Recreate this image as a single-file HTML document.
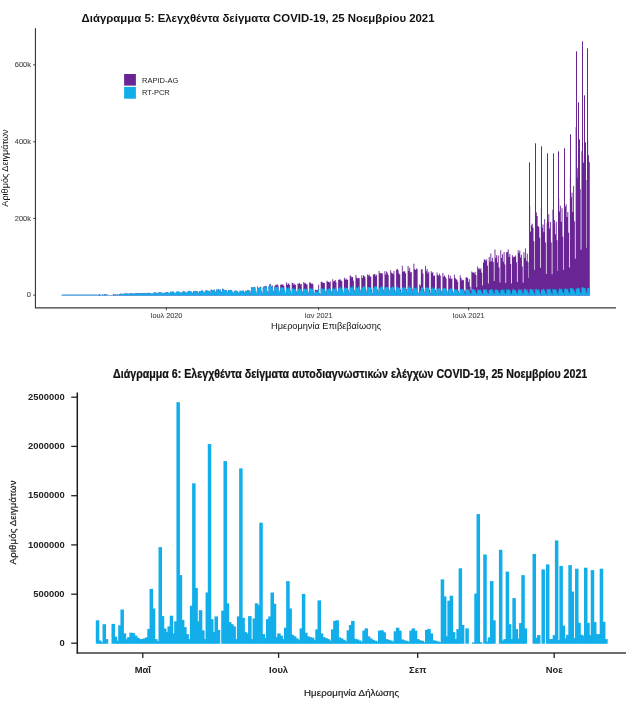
<!DOCTYPE html>
<html lang="el"><head><meta charset="utf-8"><title>Διαγράμματα COVID-19</title>
<style>
html,body{margin:0;padding:0;background:#fff}
svg{display:block}
text{font-family:"Liberation Sans",sans-serif}
.t1{font-size:7.3px;fill:#4a4a4a;stroke:#4a4a4a;stroke-width:0.12px}
.l1{font-size:9.2px;fill:#111}
.h1{font-size:11.1px;font-weight:bold;fill:#111}
.lg{font-size:7.5px;fill:#222}
.t2{font-size:9.4px;font-weight:bold;fill:#222}
.l2{font-size:9.6px;fill:#222;letter-spacing:0.14px;stroke:#222;stroke-width:0.22px}
.h2{font-size:12px;font-weight:bold;fill:#111;stroke:#111;stroke-width:0.22px}
</style></head><body>
<svg width="634" height="703" viewBox="0 0 634 703">
<rect width="634" height="703" fill="#fff"/>
<g id="chart5">
<path d="M61.69,295.45 L61.69,295.20 L62.51,295.20 L62.51,295.20 L63.34,295.20 L63.34,295.20 L64.17,295.20 L64.17,295.20 L65.00,295.20 L65.00,295.20 L65.82,295.20 L65.82,295.20 L66.65,295.20 L66.65,295.20 L67.48,295.20 L67.48,295.20 L68.31,295.20 L68.31,295.20 L69.14,295.20 L69.14,295.20 L69.96,295.20 L69.96,295.20 L70.79,295.20 L70.79,295.20 L71.62,295.20 L71.62,295.20 L72.45,295.20 L72.45,295.20 L73.27,295.20 L73.27,295.20 L74.10,295.20 L74.10,295.20 L74.93,295.20 L74.93,295.20 L75.76,295.20 L75.76,295.20 L76.58,295.20 L76.58,295.20 L77.41,295.20 L77.41,295.20 L78.24,295.20 L78.24,295.20 L79.07,295.20 L79.07,295.20 L79.90,295.20 L79.90,295.20 L80.72,295.20 L80.72,295.20 L81.55,295.20 L81.55,295.20 L82.38,295.20 L82.38,295.20 L83.21,295.20 L83.21,295.20 L84.03,295.20 L84.03,295.20 L84.86,295.20 L84.86,295.20 L85.69,295.20 L85.69,295.20 L86.52,295.20 L86.52,295.20 L87.34,295.20 L87.34,295.20 L88.17,295.20 L88.17,295.20 L89.00,295.20 L89.00,295.20 L89.83,295.20 L89.83,295.20 L90.66,295.20 L90.66,295.20 L91.48,295.20 L91.48,295.20 L92.31,295.20 L92.31,295.20 L93.14,295.20 L93.14,295.20 L93.97,295.20 L93.97,295.20 L94.79,295.20 L94.79,295.20 L95.62,295.20 L95.62,295.20 L96.45,295.20 L96.45,295.20 L97.28,295.20 L97.28,295.20 L98.10,295.20 L98.10,294.70 L98.93,294.70 L98.93,294.30 L99.76,294.30 L99.76,294.70 L100.59,294.70 L100.59,295.20 L101.42,295.20 L101.42,295.20 L102.24,295.20 L102.24,294.30 L103.07,294.30 L103.07,295.20 L103.90,295.20 L103.90,294.30 L104.73,294.30 L104.73,294.30 L105.55,294.30 L105.55,295.20 L106.38,295.20 L106.38,294.30 L107.21,294.30 L107.21,295.20 L108.04,295.20 L108.04,295.20 L108.87,295.20 L108.87,295.20 L109.69,295.20 L109.69,295.20 L110.52,295.20 L110.52,295.20 L111.35,295.20 L111.35,295.20 L112.18,295.20 L112.18,295.20 L113.00,295.20 L113.00,294.30 L113.83,294.30 L113.83,294.50 L114.66,294.50 L114.66,294.50 L115.49,294.50 L115.49,294.70 L116.31,294.70 L116.31,295.20 L117.14,295.20 L117.14,294.30 L117.97,294.30 L117.97,295.20 L118.80,295.20 L118.80,294.27 L119.63,294.27 L119.63,294.06 L120.45,294.06 L120.45,293.73 L121.28,293.73 L121.28,293.66 L122.11,293.66 L122.11,294.08 L122.94,294.08 L122.94,294.12 L123.76,294.12 L123.76,293.65 L124.59,293.65 L124.59,293.56 L125.42,293.56 L125.42,293.77 L126.25,293.77 L126.25,293.51 L127.07,293.51 L127.07,293.63 L127.90,293.63 L127.90,293.63 L128.73,293.63 L128.73,293.98 L129.56,293.98 L129.56,293.45 L130.39,293.45 L130.39,293.33 L131.21,293.33 L131.21,293.55 L132.04,293.55 L132.04,293.67 L132.87,293.67 L132.87,293.48 L133.70,293.48 L133.70,293.69 L134.52,293.69 L134.52,293.82 L135.35,293.82 L135.35,293.15 L136.18,293.15 L136.18,293.26 L137.01,293.26 L137.01,293.53 L137.83,293.53 L137.83,293.22 L138.66,293.22 L138.66,293.12 L139.49,293.12 L139.49,293.50 L140.32,293.50 L140.32,293.57 L141.15,293.57 L141.15,293.23 L141.97,293.23 L141.97,293.42 L142.80,293.42 L142.80,292.92 L143.63,292.92 L143.63,293.13 L144.46,293.13 L144.46,293.10 L145.28,293.10 L145.28,293.39 L146.11,293.39 L146.11,293.45 L146.94,293.45 L146.94,293.04 L147.77,293.04 L147.77,292.87 L148.59,292.87 L148.59,293.28 L149.42,293.28 L149.42,293.25 L150.25,293.25 L150.25,293.26 L151.08,293.26 L151.08,293.84 L151.91,293.84 L151.91,294.10 L152.73,294.10 L152.73,292.96 L153.56,292.96 L153.56,292.60 L154.39,292.60 L154.39,292.67 L155.22,292.67 L155.22,292.71 L156.04,292.71 L156.04,292.82 L156.87,292.82 L156.87,293.27 L157.70,293.27 L157.70,294.08 L158.53,294.08 L158.53,292.32 L159.35,292.32 L159.35,292.47 L160.18,292.47 L160.18,292.81 L161.01,292.81 L161.01,292.47 L161.84,292.47 L161.84,292.88 L162.67,292.88 L162.67,293.25 L163.49,293.25 L163.49,293.72 L164.32,293.72 L164.32,292.66 L165.15,292.66 L165.15,292.63 L165.98,292.63 L165.98,292.33 L166.80,292.33 L166.80,291.97 L167.63,291.97 L167.63,292.44 L168.46,292.44 L168.46,293.00 L169.29,293.00 L169.29,293.78 L170.11,293.78 L170.11,291.76 L170.94,291.76 L170.94,292.20 L171.77,292.20 L171.77,291.69 L172.60,291.69 L172.60,291.64 L173.43,291.64 L173.43,292.28 L174.25,292.28 L174.25,292.91 L175.08,292.91 L175.08,293.63 L175.91,293.63 L175.91,291.83 L176.74,291.83 L176.74,291.92 L177.56,291.92 L177.56,291.54 L178.39,291.54 L178.39,291.67 L179.22,291.67 L179.22,292.07 L180.05,292.07 L180.05,292.76 L180.87,292.76 L180.87,293.66 L181.70,293.66 L181.70,291.93 L182.53,291.93 L182.53,291.84 L183.36,291.84 L183.36,291.16 L184.19,291.16 L184.19,291.72 L185.01,291.72 L185.01,292.08 L185.84,292.08 L185.84,292.74 L186.67,292.74 L186.67,293.28 L187.50,293.28 L187.50,291.42 L188.32,291.42 L188.32,290.95 L189.15,290.95 L189.15,291.05 L189.98,291.05 L189.98,291.11 L190.81,291.11 L190.81,291.77 L191.64,291.77 L191.64,292.75 L192.46,292.75 L192.46,293.13 L193.29,293.13 L193.29,291.09 L194.12,291.09 L194.12,291.35 L194.95,291.35 L194.95,291.30 L195.77,291.30 L195.77,291.51 L196.60,291.51 L196.60,291.08 L197.43,291.08 L197.43,292.10 L198.26,292.10 L198.26,293.48 L199.08,293.48 L199.08,291.37 L199.91,291.37 L199.91,291.38 L200.74,291.38 L200.74,291.52 L201.57,291.52 L201.57,290.55 L202.40,290.55 L202.40,290.67 L203.22,290.67 L203.22,292.55 L204.05,292.55 L204.05,292.79 L204.88,292.79 L204.88,291.01 L205.71,291.01 L205.71,290.15 L206.53,290.15 L206.53,290.67 L207.36,290.67 L207.36,290.76 L208.19,290.76 L208.19,291.01 L209.02,291.01 L209.02,291.46 L209.84,291.46 L209.84,293.15 L210.67,293.15 L210.67,289.71 L211.50,289.71 L211.50,290.60 L212.33,290.60 L212.33,290.10 L213.16,290.10 L213.16,290.10 L213.98,290.10 L213.98,289.85 L214.81,289.85 L214.81,291.80 L215.64,291.80 L215.64,292.83 L216.47,292.83 L216.47,289.38 L217.29,289.38 L217.29,290.37 L218.12,290.37 L218.12,289.24 L218.95,289.24 L218.95,290.59 L219.78,290.59 L219.78,289.44 L220.60,289.44 L220.60,291.80 L221.43,291.80 L221.43,292.54 L222.26,292.54 L222.26,288.86 L223.09,288.86 L223.09,289.24 L223.92,289.24 L223.92,290.07 L224.74,290.07 L224.74,290.35 L225.57,290.35 L225.57,289.95 L226.40,289.95 L226.40,291.33 L227.23,291.33 L227.23,292.01 L228.05,292.01 L228.05,289.95 L228.88,289.95 L228.88,290.37 L229.71,290.37 L229.71,289.96 L230.54,289.96 L230.54,290.17 L231.36,290.17 L231.36,290.53 L232.19,290.53 L232.19,292.19 L233.02,292.19 L233.02,293.30 L233.85,293.30 L233.85,291.53 L234.68,291.53 L234.68,290.67 L235.50,290.67 L235.50,290.70 L236.33,290.70 L236.33,291.04 L237.16,291.04 L237.16,290.98 L237.99,290.98 L237.99,292.45 L238.81,292.45 L238.81,293.33 L239.64,293.33 L239.64,290.71 L240.47,290.71 L240.47,291.01 L241.30,291.01 L241.30,290.99 L242.12,290.99 L242.12,290.75 L242.95,290.75 L242.95,290.76 L243.78,290.76 L243.78,292.04 L244.61,292.04 L244.61,292.95 L245.44,292.95 L245.44,290.66 L246.26,290.66 L246.26,291.34 L247.09,291.34 L247.09,290.03 L247.92,290.03 L247.92,290.22 L248.75,290.22 L248.75,290.48 L249.57,290.48 L249.57,291.19 L250.40,291.19 L250.40,293.57 L251.23,293.57 L251.23,287.28 L252.06,287.28 L252.06,287.60 L252.88,287.60 L252.88,287.81 L253.71,287.81 L253.71,287.10 L254.54,287.10 L254.54,287.45 L255.37,287.45 L255.37,291.03 L256.20,291.03 L256.20,293.03 L257.02,293.03 L257.02,286.60 L257.85,286.60 L257.85,288.01 L258.68,288.01 L258.68,287.70 L259.51,287.70 L259.51,287.48 L260.33,287.48 L260.33,286.85 L261.16,286.85 L261.16,291.37 L261.99,291.37 L261.99,293.11 L262.82,293.11 L262.82,287.49 L263.64,287.49 L263.64,286.28 L264.47,286.28 L264.47,286.77 L265.30,286.77 L265.30,285.79 L266.13,285.79 L266.13,286.41 L266.96,286.41 L266.96,291.20 L267.78,291.20 L267.78,293.11 L268.61,293.11 L268.61,285.97 L269.44,285.97 L269.44,284.11 L270.27,284.11 L270.27,284.57 L271.09,284.57 L271.09,286.65 L271.92,286.65 L271.92,285.52 L272.75,285.52 L272.75,290.76 L273.58,290.76 L273.58,292.87 L274.41,292.87 L274.41,286.11 L275.23,286.11 L275.23,284.90 L276.06,284.90 L276.06,285.03 L276.89,285.03 L276.89,284.30 L277.72,284.30 L277.72,285.59 L278.54,285.59 L278.54,290.73 L279.37,290.73 L279.37,293.24 L280.20,293.24 L280.20,284.83 L281.03,284.83 L281.03,284.58 L281.85,284.58 L281.85,284.73 L282.68,284.73 L282.68,284.52 L283.51,284.52 L283.51,286.10 L284.34,286.10 L284.34,290.46 L285.17,290.46 L285.17,292.92 L285.99,292.92 L285.99,282.57 L286.82,282.57 L286.82,284.97 L287.65,284.97 L287.65,283.56 L288.48,283.56 L288.48,283.84 L289.30,283.84 L289.30,285.22 L290.13,285.22 L290.13,290.82 L290.96,290.82 L290.96,293.53 L291.79,293.53 L291.79,283.00 L292.61,283.00 L292.61,282.96 L293.44,282.96 L293.44,284.91 L294.27,284.91 L294.27,283.85 L295.10,283.85 L295.10,285.11 L295.93,285.11 L295.93,291.19 L296.75,291.19 L296.75,293.28 L297.58,293.28 L297.58,283.45 L298.41,283.45 L298.41,283.99 L299.24,283.99 L299.24,282.84 L300.06,282.84 L300.06,284.52 L300.89,284.52 L300.89,284.08 L301.72,284.08 L301.72,291.17 L302.55,291.17 L302.55,293.36 L303.37,293.36 L303.37,281.91 L304.20,281.91 L304.20,283.42 L305.03,283.42 L305.03,283.05 L305.86,283.05 L305.86,284.18 L306.69,284.18 L306.69,284.52 L307.51,284.52 L307.51,291.40 L308.34,291.40 L308.34,293.47 L309.17,293.47 L309.17,282.46 L310.00,282.46 L310.00,282.57 L310.82,282.57 L310.82,283.96 L311.65,283.96 L311.65,283.29 L312.48,283.29 L312.48,284.22 L313.31,284.22 L313.31,291.18 L314.13,291.18 L314.13,293.14 L314.96,293.14 L314.96,289.85 L315.79,289.85 L315.79,290.01 L316.62,290.01 L316.62,290.45 L317.45,290.45 L317.45,289.83 L318.27,289.83 L318.27,284.63 L319.10,284.63 L319.10,293.05 L319.93,293.05 L319.93,294.27 L320.76,294.27 L320.76,281.89 L321.58,281.89 L321.58,281.66 L322.41,281.66 L322.41,282.67 L323.24,282.67 L323.24,283.04 L324.07,283.04 L324.07,283.02 L324.89,283.02 L324.89,290.88 L325.72,290.88 L325.72,293.11 L326.55,293.11 L326.55,280.64 L327.38,280.64 L327.38,281.81 L328.21,281.81 L328.21,282.10 L329.03,282.10 L329.03,282.46 L329.86,282.46 L329.86,281.46 L330.69,281.46 L330.69,291.05 L331.52,291.05 L331.52,293.39 L332.34,293.39 L332.34,279.19 L333.17,279.19 L333.17,281.41 L334.00,281.41 L334.00,280.90 L334.83,280.90 L334.83,279.95 L335.65,279.95 L335.65,282.22 L336.48,282.22 L336.48,290.81 L337.31,290.81 L337.31,292.98 L338.14,292.98 L338.14,279.76 L338.97,279.76 L338.97,279.86 L339.79,279.86 L339.79,279.18 L340.62,279.18 L340.62,280.60 L341.45,280.60 L341.45,281.16 L342.28,281.16 L342.28,290.31 L343.10,290.31 L343.10,292.73 L343.93,292.73 L343.93,277.85 L344.76,277.85 L344.76,279.76 L345.59,279.76 L345.59,278.55 L346.41,278.55 L346.41,279.69 L347.24,279.69 L347.24,279.67 L348.07,279.67 L348.07,290.35 L348.90,290.35 L348.90,292.98 L349.73,292.98 L349.73,275.50 L350.55,275.50 L350.55,276.17 L351.38,276.17 L351.38,277.44 L352.21,277.44 L352.21,277.00 L353.04,277.00 L353.04,280.86 L353.86,280.86 L353.86,290.02 L354.69,290.02 L354.69,292.91 L355.52,292.91 L355.52,274.93 L356.35,274.93 L356.35,277.82 L357.18,277.82 L357.18,278.61 L358.00,278.61 L358.00,277.94 L358.83,277.94 L358.83,278.19 L359.66,278.19 L359.66,289.64 L360.49,289.64 L360.49,292.38 L361.31,292.38 L361.31,275.48 L362.14,275.48 L362.14,277.89 L362.97,277.89 L362.97,275.33 L363.80,275.33 L363.80,276.10 L364.62,276.10 L364.62,277.26 L365.45,277.26 L365.45,289.48 L366.28,289.48 L366.28,292.60 L367.11,292.60 L367.11,274.54 L367.94,274.54 L367.94,275.53 L368.76,275.53 L368.76,274.62 L369.59,274.62 L369.59,276.39 L370.42,276.39 L370.42,276.79 L371.25,276.79 L371.25,289.82 L372.07,289.82 L372.07,292.90 L372.90,292.90 L372.90,274.85 L373.73,274.85 L373.73,274.19 L374.56,274.19 L374.56,274.04 L375.38,274.04 L375.38,276.35 L376.21,276.35 L376.21,274.80 L377.04,274.80 L377.04,289.46 L377.87,289.46 L377.87,292.43 L378.70,292.43 L378.70,271.05 L379.52,271.05 L379.52,273.28 L380.35,273.28 L380.35,273.16 L381.18,273.16 L381.18,273.25 L382.01,273.25 L382.01,273.60 L382.83,273.60 L382.83,289.72 L383.66,289.72 L383.66,292.40 L384.49,292.40 L384.49,271.15 L385.32,271.15 L385.32,274.41 L386.14,274.41 L386.14,271.61 L386.97,271.61 L386.97,272.70 L387.80,272.70 L387.80,274.91 L388.63,274.91 L388.63,289.73 L389.46,289.73 L389.46,292.56 L390.28,292.56 L390.28,270.15 L391.11,270.15 L391.11,272.72 L391.94,272.72 L391.94,273.26 L392.77,273.26 L392.77,274.25 L393.59,274.25 L393.59,271.09 L394.42,271.09 L394.42,289.98 L395.25,289.98 L395.25,292.29 L396.08,292.29 L396.08,269.64 L396.90,269.64 L396.90,268.71 L397.73,268.71 L397.73,270.21 L398.56,270.21 L398.56,273.48 L399.39,273.48 L399.39,274.45 L400.22,274.45 L400.22,289.72 L401.04,289.72 L401.04,292.67 L401.87,292.67 L401.87,265.86 L402.70,265.86 L402.70,272.04 L403.53,272.04 L403.53,270.98 L404.35,270.98 L404.35,271.48 L405.18,271.48 L405.18,273.30 L406.01,273.30 L406.01,288.93 L406.84,288.93 L406.84,292.52 L407.66,292.52 L407.66,265.94 L408.49,265.94 L408.49,270.83 L409.32,270.83 L409.32,267.70 L410.15,267.70 L410.15,272.58 L410.98,272.58 L410.98,271.94 L411.80,271.94 L411.80,288.75 L412.63,288.75 L412.63,292.72 L413.46,292.72 L413.46,263.68 L414.29,263.68 L414.29,269.36 L415.11,269.36 L415.11,270.01 L415.94,270.01 L415.94,268.59 L416.77,268.59 L416.77,269.24 L417.60,269.24 L417.60,291.95 L418.42,291.95 L418.42,293.88 L419.25,293.88 L419.25,284.43 L420.08,284.43 L420.08,285.53 L420.91,285.53 L420.91,269.48 L421.74,269.48 L421.74,269.16 L422.56,269.16 L422.56,273.40 L423.39,273.40 L423.39,289.55 L424.22,289.55 L424.22,292.39 L425.05,292.39 L425.05,266.09 L425.87,266.09 L425.87,271.21 L426.70,271.21 L426.70,268.91 L427.53,268.91 L427.53,273.51 L428.36,273.51 L428.36,271.87 L429.18,271.87 L429.18,289.93 L430.01,289.93 L430.01,292.72 L430.84,292.72 L430.84,271.26 L431.67,271.26 L431.67,272.95 L432.50,272.95 L432.50,272.13 L433.32,272.13 L433.32,275.92 L434.15,275.92 L434.15,275.51 L434.98,275.51 L434.98,290.03 L435.81,290.03 L435.81,292.70 L436.63,292.70 L436.63,272.49 L437.46,272.49 L437.46,275.04 L438.29,275.04 L438.29,275.65 L439.12,275.65 L439.12,273.76 L439.95,273.76 L439.95,275.78 L440.77,275.78 L440.77,290.74 L441.60,290.74 L441.60,293.08 L442.43,293.08 L442.43,272.96 L443.26,272.96 L443.26,276.86 L444.08,276.86 L444.08,275.53 L444.91,275.53 L444.91,277.10 L445.74,277.10 L445.74,278.45 L446.57,278.45 L446.57,290.87 L447.39,290.87 L447.39,293.39 L448.22,293.39 L448.22,274.68 L449.05,274.68 L449.05,278.33 L449.88,278.33 L449.88,275.83 L450.71,275.83 L450.71,278.95 L451.53,278.95 L451.53,278.44 L452.36,278.44 L452.36,291.06 L453.19,291.06 L453.19,293.30 L454.02,293.30 L454.02,274.73 L454.84,274.73 L454.84,277.88 L455.67,277.88 L455.67,279.34 L456.50,279.34 L456.50,279.78 L457.33,279.78 L457.33,281.80 L458.15,281.80 L458.15,291.04 L458.98,291.04 L458.98,293.31 L459.81,293.31 L459.81,275.54 L460.64,275.54 L460.64,277.90 L461.47,277.90 L461.47,280.41 L462.29,280.41 L462.29,279.74 L463.12,279.74 L463.12,280.13 L463.95,280.13 L463.95,290.28 L464.78,290.28 L464.78,292.44 L465.60,292.44 L465.60,277.36 L466.43,277.36 L466.43,277.50 L467.26,277.50 L467.26,277.90 L468.09,277.90 L468.09,281.88 L468.91,281.88 L468.91,279.20 L469.74,279.20 L469.74,286.78 L470.57,286.78 L470.57,290.18 L471.40,290.18 L471.40,271.59 L472.23,271.59 L472.23,272.57 L473.05,272.57 L473.05,272.40 L473.88,272.40 L473.88,273.40 L474.71,273.40 L474.71,272.07 L475.54,272.07 L475.54,275.06 L476.36,275.06 L476.36,287.29 L477.19,287.29 L477.19,266.62 L478.02,266.62 L478.02,268.79 L478.85,268.79 L478.85,268.24 L479.67,268.24 L479.67,269.75 L480.50,269.75 L480.50,268.20 L481.33,268.20 L481.33,272.78 L482.16,272.78 L482.16,285.57 L482.99,285.57 L482.99,262.79 L483.81,262.79 L483.81,259.57 L484.64,259.57 L484.64,259.47 L485.47,259.47 L485.47,260.93 L486.30,260.93 L486.30,259.25 L487.12,259.25 L487.12,265.84 L487.95,265.84 L487.95,283.52 L488.78,283.52 L488.78,257.01 L489.61,257.01 L489.61,261.43 L490.43,261.43 L490.43,253.48 L491.26,253.48 L491.26,261.27 L492.09,261.27 L492.09,257.66 L492.92,257.66 L492.92,262.03 L493.75,262.03 L493.75,281.11 L494.57,281.11 L494.57,249.57 L495.40,249.57 L495.40,258.10 L496.23,258.10 L496.23,255.14 L497.06,255.14 L497.06,262.43 L497.88,262.43 L497.88,255.40 L498.71,255.40 L498.71,267.38 L499.54,267.38 L499.54,282.62 L500.37,282.62 L500.37,250.34 L501.19,250.34 L501.19,258.06 L502.02,258.06 L502.02,254.18 L502.85,254.18 L502.85,261.79 L503.68,261.79 L503.68,252.20 L504.51,252.20 L504.51,264.61 L505.33,264.61 L505.33,282.97 L506.16,282.97 L506.16,252.15 L506.99,252.15 L506.99,252.06 L507.82,252.06 L507.82,249.51 L508.64,249.51 L508.64,257.11 L509.47,257.11 L509.47,254.02 L510.30,254.02 L510.30,264.01 L511.13,264.01 L511.13,283.59 L511.95,283.59 L511.95,255.37 L512.78,255.37 L512.78,257.59 L513.61,257.59 L513.61,256.50 L514.44,256.50 L514.44,256.95 L515.27,256.95 L515.27,255.49 L516.09,255.49 L516.09,262.27 L516.92,262.27 L516.92,281.99 L517.75,281.99 L517.75,250.27 L518.58,250.27 L518.58,253.04 L519.40,253.04 L519.40,250.52 L520.23,250.52 L520.23,257.50 L521.06,257.50 L521.06,254.63 L521.89,254.63 L521.89,266.53 L522.72,266.53 L522.72,282.64 L523.54,282.64 L523.54,252.28 L524.37,252.28 L524.37,258.07 L525.20,258.07 L525.20,248.48 L526.03,248.48 L526.03,260.78 L526.85,260.78 L526.85,253.75 L527.68,253.75 L527.68,262.30 L528.51,262.30 L528.51,278.00 L529.34,278.00 L529.34,206.19 L530.16,206.19 L530.16,231.75 L530.99,231.75 L530.99,225.24 L531.82,225.24 L531.82,223.77 L532.65,223.77 L532.65,227.66 L533.48,227.66 L533.48,241.20 L534.30,241.20 L534.30,269.89 L535.13,269.89 L535.13,203.61 L535.96,203.61 L535.96,212.57 L536.79,212.57 L536.79,215.90 L537.61,215.90 L537.61,226.03 L538.44,226.03 L538.44,227.05 L539.27,227.05 L539.27,237.70 L540.10,237.70 L540.10,267.81 L540.92,267.81 L540.92,207.93 L541.75,207.93 L541.75,227.90 L542.58,227.90 L542.58,224.43 L543.41,224.43 L543.41,232.14 L544.24,232.14 L544.24,219.34 L545.06,219.34 L545.06,242.45 L545.89,242.45 L545.89,274.02 L546.72,274.02 L546.72,223.21 L547.55,223.21 L547.55,221.98 L548.37,221.98 L548.37,214.18 L549.20,214.18 L549.20,228.54 L550.03,228.54 L550.03,221.95 L550.86,221.95 L550.86,242.47 L551.68,242.47 L551.68,274.22 L552.51,274.22 L552.51,209.64 L553.34,209.64 L553.34,225.14 L554.17,225.14 L554.17,220.12 L555.00,220.12 L555.00,234.29 L555.82,234.29 L555.82,221.86 L556.65,221.86 L556.65,240.33 L557.48,240.33 L557.48,270.93 L558.31,270.93 L558.31,198.35 L559.13,198.35 L559.13,211.62 L559.96,211.62 L559.96,205.85 L560.79,205.85 L560.79,221.73 L561.62,221.73 L561.62,208.15 L562.44,208.15 L562.44,236.86 L563.27,236.86 L563.27,269.98 L564.10,269.98 L564.10,210.51 L564.93,210.51 L564.93,206.62 L565.76,206.62 L565.76,204.28 L566.58,204.28 L566.58,217.02 L567.41,217.02 L567.41,212.04 L568.24,212.04 L568.24,232.79 L569.07,232.79 L569.07,267.38 L569.89,267.38 L569.89,177.83 L570.72,177.83 L570.72,197.33 L571.55,197.33 L571.55,192.85 L572.38,192.85 L572.38,211.99 L573.20,211.99 L573.20,185.99 L574.03,185.99 L574.03,221.29 L574.86,221.29 L574.86,258.76 L575.69,258.76 L575.69,127.13 L576.52,127.13 L576.52,177.55 L577.34,177.55 L577.34,168.36 L578.17,168.36 L578.17,159.62 L579.00,159.62 L579.00,162.07 L579.83,162.07 L579.83,189.20 L580.65,189.20 L580.65,249.77 L581.48,249.77 L581.48,151.16 L582.31,151.16 L582.31,153.79 L583.14,153.79 L583.14,162.68 L583.96,162.68 L583.96,160.75 L584.79,160.75 L584.79,170.34 L585.62,170.34 L585.62,180.04 L586.45,180.04 L586.45,247.68 L587.28,247.68 L587.28,140.35 L588.10,140.35 L588.10,155.30 L588.93,155.30 L588.93,162.30 L589.76,162.30 L589.76,295.45Z" fill="#6A2595" stroke="#6A2595" stroke-width="0.08"/>
<rect x="529" y="162.30" width="1" height="133.00" fill="#6A2595"/>
<rect x="535" y="143.30" width="1" height="152.00" fill="#6A2595"/>
<rect x="541" y="146.30" width="1" height="149.00" fill="#6A2595"/>
<rect x="547" y="153.30" width="1" height="142.00" fill="#6A2595"/>
<rect x="553" y="153.30" width="1" height="142.00" fill="#6A2595"/>
<rect x="558" y="151.30" width="1" height="144.00" fill="#6A2595"/>
<rect x="564" y="148.30" width="1" height="147.00" fill="#6A2595"/>
<rect x="570" y="134.30" width="1" height="161.00" fill="#6A2595"/>
<rect x="576" y="51.30" width="1" height="244.00" fill="#6A2595"/>
<rect x="582" y="41.30" width="1" height="254.00" fill="#6A2595"/>
<rect x="587" y="48.30" width="1" height="247.00" fill="#6A2595"/>
<rect x="578" y="102.30" width="1" height="193.00" fill="#6A2595"/>
<rect x="584" y="95.30" width="1" height="200.00" fill="#6A2595"/>
<rect x="579" y="139.30" width="1" height="156.00" fill="#6A2595"/>
<rect x="585" y="142.30" width="1" height="153.00" fill="#6A2595"/>
<path d="M61.69,295.45 L61.69,295.20 L62.51,295.20 L62.51,295.20 L63.34,295.20 L63.34,295.20 L64.17,295.20 L64.17,295.20 L65.00,295.20 L65.00,295.20 L65.82,295.20 L65.82,295.20 L66.65,295.20 L66.65,295.20 L67.48,295.20 L67.48,295.20 L68.31,295.20 L68.31,295.20 L69.14,295.20 L69.14,295.20 L69.96,295.20 L69.96,295.20 L70.79,295.20 L70.79,295.20 L71.62,295.20 L71.62,295.20 L72.45,295.20 L72.45,295.20 L73.27,295.20 L73.27,295.20 L74.10,295.20 L74.10,295.20 L74.93,295.20 L74.93,295.20 L75.76,295.20 L75.76,295.20 L76.58,295.20 L76.58,295.20 L77.41,295.20 L77.41,295.20 L78.24,295.20 L78.24,295.20 L79.07,295.20 L79.07,295.20 L79.90,295.20 L79.90,295.20 L80.72,295.20 L80.72,295.20 L81.55,295.20 L81.55,295.20 L82.38,295.20 L82.38,295.20 L83.21,295.20 L83.21,295.20 L84.03,295.20 L84.03,295.20 L84.86,295.20 L84.86,295.20 L85.69,295.20 L85.69,295.20 L86.52,295.20 L86.52,295.20 L87.34,295.20 L87.34,295.20 L88.17,295.20 L88.17,295.20 L89.00,295.20 L89.00,295.20 L89.83,295.20 L89.83,295.20 L90.66,295.20 L90.66,295.20 L91.48,295.20 L91.48,295.20 L92.31,295.20 L92.31,295.20 L93.14,295.20 L93.14,295.20 L93.97,295.20 L93.97,295.20 L94.79,295.20 L94.79,295.20 L95.62,295.20 L95.62,295.20 L96.45,295.20 L96.45,295.20 L97.28,295.20 L97.28,295.20 L98.10,295.20 L98.10,294.70 L98.93,294.70 L98.93,294.30 L99.76,294.30 L99.76,294.70 L100.59,294.70 L100.59,295.20 L101.42,295.20 L101.42,295.20 L102.24,295.20 L102.24,294.30 L103.07,294.30 L103.07,295.20 L103.90,295.20 L103.90,294.30 L104.73,294.30 L104.73,294.30 L105.55,294.30 L105.55,295.20 L106.38,295.20 L106.38,294.30 L107.21,294.30 L107.21,295.20 L108.04,295.20 L108.04,295.20 L108.87,295.20 L108.87,295.20 L109.69,295.20 L109.69,295.20 L110.52,295.20 L110.52,295.20 L111.35,295.20 L111.35,295.20 L112.18,295.20 L112.18,295.20 L113.00,295.20 L113.00,294.30 L113.83,294.30 L113.83,294.50 L114.66,294.50 L114.66,294.50 L115.49,294.50 L115.49,294.70 L116.31,294.70 L116.31,295.20 L117.14,295.20 L117.14,294.30 L117.97,294.30 L117.97,295.20 L118.80,295.20 L118.80,294.27 L119.63,294.27 L119.63,294.06 L120.45,294.06 L120.45,293.73 L121.28,293.73 L121.28,293.66 L122.11,293.66 L122.11,294.08 L122.94,294.08 L122.94,294.12 L123.76,294.12 L123.76,293.65 L124.59,293.65 L124.59,293.56 L125.42,293.56 L125.42,293.77 L126.25,293.77 L126.25,293.51 L127.07,293.51 L127.07,293.63 L127.90,293.63 L127.90,293.63 L128.73,293.63 L128.73,293.98 L129.56,293.98 L129.56,293.45 L130.39,293.45 L130.39,293.33 L131.21,293.33 L131.21,293.55 L132.04,293.55 L132.04,293.67 L132.87,293.67 L132.87,293.48 L133.70,293.48 L133.70,293.69 L134.52,293.69 L134.52,293.82 L135.35,293.82 L135.35,293.15 L136.18,293.15 L136.18,293.26 L137.01,293.26 L137.01,293.53 L137.83,293.53 L137.83,293.22 L138.66,293.22 L138.66,293.12 L139.49,293.12 L139.49,293.50 L140.32,293.50 L140.32,293.57 L141.15,293.57 L141.15,293.23 L141.97,293.23 L141.97,293.42 L142.80,293.42 L142.80,292.92 L143.63,292.92 L143.63,293.13 L144.46,293.13 L144.46,293.10 L145.28,293.10 L145.28,293.39 L146.11,293.39 L146.11,293.45 L146.94,293.45 L146.94,293.04 L147.77,293.04 L147.77,292.87 L148.59,292.87 L148.59,293.28 L149.42,293.28 L149.42,293.25 L150.25,293.25 L150.25,293.26 L151.08,293.26 L151.08,293.84 L151.91,293.84 L151.91,294.10 L152.73,294.10 L152.73,292.96 L153.56,292.96 L153.56,292.60 L154.39,292.60 L154.39,292.67 L155.22,292.67 L155.22,292.71 L156.04,292.71 L156.04,292.82 L156.87,292.82 L156.87,293.27 L157.70,293.27 L157.70,294.08 L158.53,294.08 L158.53,292.32 L159.35,292.32 L159.35,292.47 L160.18,292.47 L160.18,292.81 L161.01,292.81 L161.01,292.47 L161.84,292.47 L161.84,292.88 L162.67,292.88 L162.67,293.25 L163.49,293.25 L163.49,293.72 L164.32,293.72 L164.32,292.66 L165.15,292.66 L165.15,292.63 L165.98,292.63 L165.98,292.33 L166.80,292.33 L166.80,291.97 L167.63,291.97 L167.63,292.44 L168.46,292.44 L168.46,293.00 L169.29,293.00 L169.29,293.78 L170.11,293.78 L170.11,291.76 L170.94,291.76 L170.94,292.20 L171.77,292.20 L171.77,291.69 L172.60,291.69 L172.60,291.64 L173.43,291.64 L173.43,292.28 L174.25,292.28 L174.25,292.91 L175.08,292.91 L175.08,293.63 L175.91,293.63 L175.91,291.83 L176.74,291.83 L176.74,291.92 L177.56,291.92 L177.56,291.54 L178.39,291.54 L178.39,291.67 L179.22,291.67 L179.22,292.07 L180.05,292.07 L180.05,292.76 L180.87,292.76 L180.87,293.66 L181.70,293.66 L181.70,291.93 L182.53,291.93 L182.53,291.84 L183.36,291.84 L183.36,291.16 L184.19,291.16 L184.19,291.72 L185.01,291.72 L185.01,292.08 L185.84,292.08 L185.84,292.74 L186.67,292.74 L186.67,293.28 L187.50,293.28 L187.50,291.42 L188.32,291.42 L188.32,290.95 L189.15,290.95 L189.15,291.05 L189.98,291.05 L189.98,291.11 L190.81,291.11 L190.81,291.77 L191.64,291.77 L191.64,292.75 L192.46,292.75 L192.46,293.13 L193.29,293.13 L193.29,291.09 L194.12,291.09 L194.12,291.35 L194.95,291.35 L194.95,291.30 L195.77,291.30 L195.77,291.51 L196.60,291.51 L196.60,291.08 L197.43,291.08 L197.43,292.10 L198.26,292.10 L198.26,293.48 L199.08,293.48 L199.08,291.37 L199.91,291.37 L199.91,291.38 L200.74,291.38 L200.74,291.52 L201.57,291.52 L201.57,290.55 L202.40,290.55 L202.40,290.67 L203.22,290.67 L203.22,292.55 L204.05,292.55 L204.05,292.79 L204.88,292.79 L204.88,291.01 L205.71,291.01 L205.71,290.15 L206.53,290.15 L206.53,290.67 L207.36,290.67 L207.36,290.76 L208.19,290.76 L208.19,291.01 L209.02,291.01 L209.02,291.46 L209.84,291.46 L209.84,293.15 L210.67,293.15 L210.67,289.71 L211.50,289.71 L211.50,290.60 L212.33,290.60 L212.33,290.10 L213.16,290.10 L213.16,290.10 L213.98,290.10 L213.98,289.85 L214.81,289.85 L214.81,291.80 L215.64,291.80 L215.64,292.83 L216.47,292.83 L216.47,289.38 L217.29,289.38 L217.29,290.37 L218.12,290.37 L218.12,289.24 L218.95,289.24 L218.95,290.59 L219.78,290.59 L219.78,289.44 L220.60,289.44 L220.60,291.80 L221.43,291.80 L221.43,292.54 L222.26,292.54 L222.26,288.86 L223.09,288.86 L223.09,289.24 L223.92,289.24 L223.92,290.07 L224.74,290.07 L224.74,290.35 L225.57,290.35 L225.57,289.95 L226.40,289.95 L226.40,291.33 L227.23,291.33 L227.23,292.01 L228.05,292.01 L228.05,289.95 L228.88,289.95 L228.88,290.37 L229.71,290.37 L229.71,289.96 L230.54,289.96 L230.54,290.17 L231.36,290.17 L231.36,290.53 L232.19,290.53 L232.19,292.19 L233.02,292.19 L233.02,293.30 L233.85,293.30 L233.85,291.53 L234.68,291.53 L234.68,290.67 L235.50,290.67 L235.50,290.70 L236.33,290.70 L236.33,291.04 L237.16,291.04 L237.16,290.98 L237.99,290.98 L237.99,292.45 L238.81,292.45 L238.81,293.33 L239.64,293.33 L239.64,290.71 L240.47,290.71 L240.47,291.01 L241.30,291.01 L241.30,290.99 L242.12,290.99 L242.12,290.75 L242.95,290.75 L242.95,290.76 L243.78,290.76 L243.78,292.04 L244.61,292.04 L244.61,292.95 L245.44,292.95 L245.44,290.66 L246.26,290.66 L246.26,291.34 L247.09,291.34 L247.09,290.03 L247.92,290.03 L247.92,290.22 L248.75,290.22 L248.75,290.48 L249.57,290.48 L249.57,291.19 L250.40,291.19 L250.40,293.57 L251.23,293.57 L251.23,287.28 L252.06,287.28 L252.06,287.60 L252.88,287.60 L252.88,287.81 L253.71,287.81 L253.71,287.14 L254.54,287.14 L254.54,287.53 L255.37,287.53 L255.37,291.04 L256.20,291.04 L256.20,293.04 L257.02,293.04 L257.02,286.83 L257.85,286.83 L257.85,288.26 L258.68,288.26 L258.68,288.01 L259.51,288.01 L259.51,287.80 L260.33,287.80 L260.33,287.20 L261.16,287.20 L261.16,291.41 L261.99,291.41 L261.99,293.13 L262.82,293.13 L262.82,288.17 L263.64,288.17 L263.64,286.80 L264.47,286.80 L264.47,287.39 L265.30,287.39 L265.30,286.37 L266.13,286.37 L266.13,287.08 L266.96,287.08 L266.96,291.26 L267.78,291.26 L267.78,293.13 L268.61,293.13 L268.61,286.81 L269.44,286.81 L269.44,285.07 L270.27,285.07 L270.27,285.49 L271.09,285.49 L271.09,287.75 L271.92,287.75 L271.92,286.47 L272.75,286.47 L272.75,290.88 L273.58,290.88 L273.58,292.93 L274.41,292.93 L274.41,287.88 L275.23,287.88 L275.23,286.59 L276.06,286.59 L276.06,287.05 L276.89,287.05 L276.89,285.97 L277.72,285.97 L277.72,287.52 L278.54,287.52 L278.54,290.96 L279.37,290.96 L279.37,293.32 L280.20,293.32 L280.20,287.69 L281.03,287.69 L281.03,287.22 L281.85,287.22 L281.85,287.94 L282.68,287.94 L282.68,287.00 L283.51,287.00 L283.51,288.77 L284.34,288.77 L284.34,290.78 L285.17,290.78 L285.17,293.04 L285.99,293.04 L285.99,287.29 L286.82,287.29 L286.82,288.69 L287.65,288.69 L287.65,287.72 L288.48,287.72 L288.48,287.32 L289.30,287.32 L289.30,288.92 L290.13,288.92 L290.13,291.27 L290.96,291.27 L290.96,293.69 L291.79,293.69 L291.79,288.73 L292.61,288.73 L292.61,288.11 L293.44,288.11 L293.44,289.21 L294.27,289.21 L294.27,288.74 L295.10,288.74 L295.10,289.47 L295.93,289.47 L295.93,291.70 L296.75,291.70 L296.75,293.48 L297.58,293.48 L297.58,288.92 L298.41,288.92 L298.41,288.92 L299.24,288.92 L299.24,288.34 L300.06,288.34 L300.06,289.25 L300.89,289.25 L300.89,288.68 L301.72,288.68 L301.72,291.62 L302.55,291.62 L302.55,293.53 L303.37,293.53 L303.37,288.75 L304.20,288.75 L304.20,288.82 L305.03,288.82 L305.03,288.77 L305.86,288.77 L305.86,289.24 L306.69,289.24 L306.69,288.88 L307.51,288.88 L307.51,291.89 L308.34,291.89 L308.34,293.68 L309.17,293.68 L309.17,288.17 L310.00,288.17 L310.00,288.03 L310.82,288.03 L310.82,289.06 L311.65,289.06 L311.65,288.78 L312.48,288.78 L312.48,289.22 L313.31,289.22 L313.31,291.74 L314.13,291.74 L314.13,293.36 L314.96,293.36 L314.96,291.35 L315.79,291.35 L315.79,291.41 L316.62,291.41 L316.62,291.83 L317.45,291.83 L317.45,291.24 L318.27,291.24 L318.27,289.11 L319.10,289.11 L319.10,293.19 L319.93,293.19 L319.93,294.33 L320.76,294.33 L320.76,288.06 L321.58,288.06 L321.58,288.45 L322.41,288.45 L322.41,288.73 L323.24,288.73 L323.24,289.28 L324.07,289.28 L324.07,288.14 L324.89,288.14 L324.89,291.44 L325.72,291.44 L325.72,293.36 L326.55,293.36 L326.55,289.59 L327.38,289.59 L327.38,289.45 L328.21,289.45 L328.21,288.51 L329.03,288.51 L329.03,288.38 L329.86,288.38 L329.86,288.72 L330.69,288.72 L330.69,291.76 L331.52,291.76 L331.52,293.68 L332.34,293.68 L332.34,287.68 L333.17,287.68 L333.17,288.55 L334.00,288.55 L334.00,289.12 L334.83,289.12 L334.83,287.18 L335.65,287.18 L335.65,288.66 L336.48,288.66 L336.48,291.62 L337.31,291.62 L337.31,293.26 L338.14,293.26 L338.14,288.05 L338.97,288.05 L338.97,288.36 L339.79,288.36 L339.79,286.60 L340.62,286.60 L340.62,288.48 L341.45,288.48 L341.45,287.93 L342.28,287.93 L342.28,291.08 L343.10,291.08 L343.10,293.04 L343.93,293.04 L343.93,287.72 L344.76,287.72 L344.76,287.52 L345.59,287.52 L345.59,288.15 L346.41,288.15 L346.41,287.96 L347.24,287.96 L347.24,288.17 L348.07,288.17 L348.07,291.21 L348.90,291.21 L348.90,293.34 L349.73,293.34 L349.73,286.98 L350.55,286.98 L350.55,286.84 L351.38,286.84 L351.38,288.00 L352.21,288.00 L352.21,286.18 L353.04,286.18 L353.04,288.45 L353.86,288.45 L353.86,290.98 L354.69,290.98 L354.69,293.29 L355.52,293.29 L355.52,286.75 L356.35,286.75 L356.35,287.72 L357.18,287.72 L357.18,287.75 L358.00,287.75 L358.00,286.79 L358.83,286.79 L358.83,287.47 L359.66,287.47 L359.66,290.60 L360.49,290.60 L360.49,292.79 L361.31,292.79 L361.31,288.11 L362.14,288.11 L362.14,287.80 L362.97,287.80 L362.97,286.07 L363.80,286.07 L363.80,286.55 L364.62,286.55 L364.62,286.80 L365.45,286.80 L365.45,290.50 L366.28,290.50 L366.28,292.96 L367.11,292.96 L367.11,287.13 L367.94,287.13 L367.94,287.22 L368.76,287.22 L368.76,287.03 L369.59,287.03 L369.59,287.72 L370.42,287.72 L370.42,287.61 L371.25,287.61 L371.25,290.92 L372.07,290.92 L372.07,293.36 L372.90,293.36 L372.90,288.21 L373.73,288.21 L373.73,287.13 L374.56,287.13 L374.56,285.91 L375.38,285.91 L375.38,286.58 L376.21,286.58 L376.21,286.46 L377.04,286.46 L377.04,290.61 L377.87,290.61 L377.87,292.90 L378.70,292.90 L378.70,288.21 L379.52,288.21 L379.52,287.73 L380.35,287.73 L380.35,287.05 L381.18,287.05 L381.18,286.48 L382.01,286.48 L382.01,286.70 L382.83,286.70 L382.83,290.88 L383.66,290.88 L383.66,292.82 L384.49,292.82 L384.49,286.79 L385.32,286.79 L385.32,287.43 L386.14,287.43 L386.14,287.06 L386.97,287.06 L386.97,286.92 L387.80,286.92 L387.80,287.63 L388.63,287.63 L388.63,290.99 L389.46,290.99 L389.46,293.10 L390.28,293.10 L390.28,287.99 L391.11,287.99 L391.11,287.74 L391.94,287.74 L391.94,286.68 L392.77,286.68 L392.77,287.32 L393.59,287.32 L393.59,286.35 L394.42,286.35 L394.42,291.33 L395.25,291.33 L395.25,292.85 L396.08,292.85 L396.08,287.14 L396.90,287.14 L396.90,286.18 L397.73,286.18 L397.73,287.45 L398.56,287.45 L398.56,287.67 L399.39,287.67 L399.39,287.93 L400.22,287.93 L400.22,291.27 L401.04,291.27 L401.04,293.22 L401.87,293.22 L401.87,287.91 L402.70,287.91 L402.70,287.36 L403.53,287.36 L403.53,286.87 L404.35,286.87 L404.35,288.01 L405.18,288.01 L405.18,288.37 L406.01,288.37 L406.01,290.37 L406.84,290.37 L406.84,293.10 L407.66,293.10 L407.66,286.29 L408.49,286.29 L408.49,287.79 L409.32,287.79 L409.32,286.10 L410.15,286.10 L410.15,288.05 L410.98,288.05 L410.98,288.09 L411.80,288.09 L411.80,290.55 L412.63,290.55 L412.63,293.41 L413.46,293.41 L413.46,286.86 L414.29,286.86 L414.29,288.03 L415.11,288.03 L415.11,288.20 L415.94,288.20 L415.94,288.39 L416.77,288.39 L416.77,286.77 L417.60,286.77 L417.60,292.52 L418.42,292.52 L418.42,294.08 L419.25,294.08 L419.25,291.24 L420.08,291.24 L420.08,290.48 L420.91,290.48 L420.91,287.67 L421.74,287.67 L421.74,287.32 L422.56,287.32 L422.56,287.88 L423.39,287.88 L423.39,291.33 L424.22,291.33 L424.22,292.99 L425.05,292.99 L425.05,288.08 L425.87,288.08 L425.87,287.04 L426.70,287.04 L426.70,287.95 L427.53,287.95 L427.53,287.41 L428.36,287.41 L428.36,287.95 L429.18,287.95 L429.18,291.48 L430.01,291.48 L430.01,293.38 L430.84,293.38 L430.84,288.97 L431.67,288.97 L431.67,287.72 L432.50,287.72 L432.50,287.52 L433.32,287.52 L433.32,289.14 L434.15,289.14 L434.15,287.94 L434.98,287.94 L434.98,291.46 L435.81,291.46 L435.81,293.30 L436.63,293.30 L436.63,288.79 L437.46,288.79 L437.46,288.84 L438.29,288.84 L438.29,288.60 L439.12,288.60 L439.12,288.00 L439.95,288.00 L439.95,289.17 L440.77,289.17 L440.77,292.15 L441.60,292.15 L441.60,293.60 L442.43,293.60 L442.43,288.54 L443.26,288.54 L443.26,288.08 L444.08,288.08 L444.08,287.93 L444.91,287.93 L444.91,288.19 L445.74,288.19 L445.74,288.88 L446.57,288.88 L446.57,291.87 L447.39,291.87 L447.39,293.80 L448.22,293.80 L448.22,289.66 L449.05,289.66 L449.05,289.41 L449.88,289.41 L449.88,288.38 L450.71,288.38 L450.71,288.45 L451.53,288.45 L451.53,289.06 L452.36,289.06 L452.36,292.15 L453.19,292.15 L453.19,293.68 L454.02,293.68 L454.02,288.87 L454.84,288.87 L454.84,289.40 L455.67,289.40 L455.67,289.42 L456.50,289.42 L456.50,289.39 L457.33,289.39 L457.33,290.41 L458.15,290.41 L458.15,292.17 L458.98,292.17 L458.98,293.68 L459.81,293.68 L459.81,289.06 L460.64,289.06 L460.64,289.47 L461.47,289.47 L461.47,289.66 L462.29,289.66 L462.29,289.07 L463.12,289.07 L463.12,289.50 L463.95,289.50 L463.95,292.52 L464.78,292.52 L464.78,293.83 L465.60,293.83 L465.60,290.30 L466.43,290.30 L466.43,288.69 L467.26,288.69 L467.26,289.01 L468.09,289.01 L468.09,290.29 L468.91,290.29 L468.91,289.48 L469.74,289.48 L469.74,292.53 L470.57,292.53 L470.57,293.85 L471.40,293.85 L471.40,289.21 L472.23,289.21 L472.23,289.02 L473.05,289.02 L473.05,288.97 L473.88,288.97 L473.88,290.02 L474.71,290.02 L474.71,289.64 L475.54,289.64 L475.54,292.27 L476.36,292.27 L476.36,293.57 L477.19,293.57 L477.19,289.57 L478.02,289.57 L478.02,289.86 L478.85,289.86 L478.85,290.03 L479.67,290.03 L479.67,289.45 L480.50,289.45 L480.50,290.11 L481.33,290.11 L481.33,292.01 L482.16,292.01 L482.16,293.66 L482.99,293.66 L482.99,289.19 L483.81,289.19 L483.81,289.54 L484.64,289.54 L484.64,289.28 L485.47,289.28 L485.47,290.09 L486.30,290.09 L486.30,289.34 L487.12,289.34 L487.12,292.38 L487.95,292.38 L487.95,293.84 L488.78,293.84 L488.78,290.05 L489.61,290.05 L489.61,289.94 L490.43,289.94 L490.43,288.89 L491.26,288.89 L491.26,289.71 L492.09,289.71 L492.09,289.20 L492.92,289.20 L492.92,291.92 L493.75,291.92 L493.75,293.69 L494.57,293.69 L494.57,290.22 L495.40,290.22 L495.40,289.30 L496.23,289.30 L496.23,289.83 L497.06,289.83 L497.06,289.75 L497.88,289.75 L497.88,290.59 L498.71,290.59 L498.71,292.23 L499.54,292.23 L499.54,293.78 L500.37,293.78 L500.37,289.92 L501.19,289.92 L501.19,290.09 L502.02,290.09 L502.02,289.09 L502.85,289.09 L502.85,290.49 L503.68,290.49 L503.68,289.59 L504.51,289.59 L504.51,292.65 L505.33,292.65 L505.33,293.72 L506.16,293.72 L506.16,289.31 L506.99,289.31 L506.99,290.22 L507.82,290.22 L507.82,288.99 L508.64,288.99 L508.64,289.61 L509.47,289.61 L509.47,289.88 L510.30,289.88 L510.30,292.57 L511.13,292.57 L511.13,293.98 L511.95,293.98 L511.95,290.27 L512.78,290.27 L512.78,288.83 L513.61,288.83 L513.61,289.44 L514.44,289.44 L514.44,290.20 L515.27,290.20 L515.27,289.88 L516.09,289.88 L516.09,292.16 L516.92,292.16 L516.92,293.74 L517.75,293.74 L517.75,290.46 L518.58,290.46 L518.58,288.70 L519.40,288.70 L519.40,289.65 L520.23,289.65 L520.23,289.92 L521.06,289.92 L521.06,289.26 L521.89,289.26 L521.89,292.14 L522.72,292.14 L522.72,293.57 L523.54,293.57 L523.54,289.52 L524.37,289.52 L524.37,288.79 L525.20,288.79 L525.20,288.83 L526.03,288.83 L526.03,290.36 L526.85,290.36 L526.85,289.54 L527.68,289.54 L527.68,291.87 L528.51,291.87 L528.51,293.85 L529.34,293.85 L529.34,289.04 L530.16,289.04 L530.16,289.35 L530.99,289.35 L530.99,288.81 L531.82,288.81 L531.82,290.05 L532.65,290.05 L532.65,289.10 L533.48,289.10 L533.48,292.28 L534.30,292.28 L534.30,293.79 L535.13,293.79 L535.13,288.92 L535.96,288.92 L535.96,288.71 L536.79,288.71 L536.79,289.44 L537.61,289.44 L537.61,290.30 L538.44,290.30 L538.44,288.95 L539.27,288.95 L539.27,291.81 L540.10,291.81 L540.10,293.77 L540.92,293.77 L540.92,289.41 L541.75,289.41 L541.75,290.00 L542.58,290.00 L542.58,289.11 L543.41,289.11 L543.41,288.64 L544.24,288.64 L544.24,290.35 L545.06,290.35 L545.06,291.98 L545.89,291.98 L545.89,293.89 L546.72,293.89 L546.72,288.86 L547.55,288.86 L547.55,289.65 L548.37,289.65 L548.37,289.18 L549.20,289.18 L549.20,288.72 L550.03,288.72 L550.03,289.18 L550.86,289.18 L550.86,292.29 L551.68,292.29 L551.68,293.89 L552.51,293.89 L552.51,288.66 L553.34,288.66 L553.34,289.74 L554.17,289.74 L554.17,288.89 L555.00,288.89 L555.00,289.85 L555.82,289.85 L555.82,289.15 L556.65,289.15 L556.65,292.14 L557.48,292.14 L557.48,293.71 L558.31,293.71 L558.31,289.98 L559.13,289.98 L559.13,288.13 L559.96,288.13 L559.96,288.80 L560.79,288.80 L560.79,289.46 L561.62,289.46 L561.62,288.78 L562.44,288.78 L562.44,291.90 L563.27,291.90 L563.27,293.62 L564.10,293.62 L564.10,288.96 L564.93,288.96 L564.93,288.13 L565.76,288.13 L565.76,289.23 L566.58,289.23 L566.58,288.91 L567.41,288.91 L567.41,288.70 L568.24,288.70 L568.24,291.99 L569.07,291.99 L569.07,293.47 L569.89,293.47 L569.89,288.12 L570.72,288.12 L570.72,287.73 L571.55,287.73 L571.55,288.56 L572.38,288.56 L572.38,288.25 L573.20,288.25 L573.20,289.48 L574.03,289.48 L574.03,291.34 L574.86,291.34 L574.86,293.53 L575.69,293.53 L575.69,288.66 L576.52,288.66 L576.52,288.71 L577.34,288.71 L577.34,287.63 L578.17,287.63 L578.17,288.08 L579.00,288.08 L579.00,288.43 L579.83,288.43 L579.83,291.79 L580.65,291.79 L580.65,293.40 L581.48,293.40 L581.48,287.47 L582.31,287.47 L582.31,287.08 L583.14,287.08 L583.14,287.89 L583.96,287.89 L583.96,287.96 L584.79,287.96 L584.79,288.18 L585.62,288.18 L585.62,290.98 L586.45,290.98 L586.45,293.30 L587.28,293.30 L587.28,288.11 L588.10,288.11 L588.10,288.12 L588.93,288.12 L588.93,288.05 L589.76,288.05 L589.76,295.45Z" fill="#12AEEA" stroke="#12AEEA" stroke-width="0.08"/>
<line x1="61.7" x2="97.3" y1="294.8" y2="294.8" stroke="#1A9FDC" stroke-width="0.7"/>
<path d="M35.45,28.2 V307.9 H616" fill="none" stroke="#3a3a3a" stroke-width="1.15"/>
<line x1="33.2" x2="35.5" y1="64.8" y2="64.8" stroke="#333" stroke-width="0.9"/>
<text x="31" y="67.1" text-anchor="end" class="t1" style="font-size:7.5px">600k</text>
<line x1="33.2" x2="35.5" y1="141.8" y2="141.8" stroke="#333" stroke-width="0.9"/>
<text x="31" y="144.1" text-anchor="end" class="t1" style="font-size:7.5px">400k</text>
<line x1="33.2" x2="35.5" y1="218.4" y2="218.4" stroke="#333" stroke-width="0.9"/>
<text x="31" y="220.7" text-anchor="end" class="t1" style="font-size:7.5px">200k</text>
<line x1="33.2" x2="35.5" y1="295.1" y2="295.1" stroke="#333" stroke-width="0.9"/>
<text x="31" y="297.4" text-anchor="end" class="t1" style="font-size:7.5px">0</text>
<line x1="166.4" x2="166.4" y1="307.8" y2="310.3" stroke="#333" stroke-width="0.9"/>
<text x="166.4" y="317.8" text-anchor="middle" class="t1">Ιουλ 2020</text>
<line x1="318.6" x2="318.6" y1="307.8" y2="310.3" stroke="#333" stroke-width="0.9"/>
<text x="318.6" y="317.8" text-anchor="middle" class="t1">Ιαν 2021</text>
<line x1="468.6" x2="468.6" y1="307.8" y2="310.3" stroke="#333" stroke-width="0.9"/>
<text x="468.6" y="317.8" text-anchor="middle" class="t1">Ιουλ 2021</text>
<text x="326.2" y="329.4" text-anchor="middle" class="l1">Ημερομηνία Επιβεβαίωσης</text>
<text transform="translate(8.4,168) rotate(-90)" text-anchor="middle" class="l1" style="font-size:9.1px">Αριθμός Δειγμάτων</text>
<text x="81.6" y="21.8" class="h1" textLength="352.9" lengthAdjust="spacingAndGlyphs">Διάγραμμα 5: Ελεγχθέντα δείγματα COVID-19, 25 Νοεμβρίου 2021</text>
<rect x="124.1" y="74" width="11.8" height="11.6" fill="#6A2595"/>
<rect x="124.1" y="86.9" width="11.8" height="11.8" fill="#12AEEA"/>
<text x="142" y="82.9" class="lg">RAPID-AG</text>
<text x="142" y="95" class="lg">RT-PCR</text>
</g>
<g id="chart6">
<g fill="#12AEEA"><rect x="95.80" y="620.30" width="3.50" height="23.40"/><rect x="98.04" y="640.50" width="3.50" height="3.20"/><rect x="100.28" y="642.20" width="3.50" height="1.50"/><rect x="102.52" y="624.20" width="3.50" height="19.50"/><rect x="104.76" y="639.10" width="3.50" height="4.60"/><rect x="111.48" y="623.90" width="3.50" height="19.80"/><rect x="113.72" y="636.60" width="3.50" height="7.10"/><rect x="115.96" y="640.60" width="3.50" height="3.10"/><rect x="118.19" y="625.30" width="3.50" height="18.40"/><rect x="120.43" y="609.50" width="3.50" height="34.20"/><rect x="122.67" y="633.40" width="3.50" height="10.30"/><rect x="124.91" y="639.10" width="3.50" height="4.60"/><rect x="127.15" y="637.10" width="3.50" height="6.60"/><rect x="129.39" y="632.70" width="3.50" height="11.00"/><rect x="131.63" y="633.10" width="3.50" height="10.60"/><rect x="133.87" y="635.60" width="3.50" height="8.10"/><rect x="136.11" y="637.70" width="3.50" height="6.00"/><rect x="138.35" y="639.10" width="3.50" height="4.60"/><rect x="140.59" y="639.10" width="3.50" height="4.60"/><rect x="142.83" y="638.40" width="3.50" height="5.30"/><rect x="145.07" y="637.40" width="3.50" height="6.30"/><rect x="147.31" y="628.90" width="3.50" height="14.80"/><rect x="149.55" y="588.90" width="3.50" height="54.80"/><rect x="151.79" y="608.50" width="3.50" height="35.20"/><rect x="154.03" y="639.10" width="3.50" height="4.60"/><rect x="156.27" y="641.10" width="3.50" height="2.60"/><rect x="158.51" y="547.10" width="3.50" height="96.60"/><rect x="160.75" y="616.10" width="3.50" height="27.60"/><rect x="162.99" y="628.50" width="3.50" height="15.20"/><rect x="165.22" y="632.10" width="3.50" height="11.60"/><rect x="167.46" y="626.30" width="3.50" height="17.40"/><rect x="169.70" y="615.70" width="3.50" height="28.00"/><rect x="171.94" y="633.40" width="3.50" height="10.30"/><rect x="174.18" y="621.30" width="3.50" height="22.40"/><rect x="176.42" y="402.20" width="3.50" height="241.50"/><rect x="178.66" y="575.10" width="3.50" height="68.60"/><rect x="180.90" y="619.90" width="3.50" height="23.80"/><rect x="183.14" y="627.10" width="3.50" height="16.60"/><rect x="185.38" y="634.10" width="3.50" height="9.60"/><rect x="187.62" y="639.10" width="3.50" height="4.60"/><rect x="189.86" y="605.70" width="3.50" height="38.00"/><rect x="192.10" y="483.30" width="3.50" height="160.40"/><rect x="194.34" y="587.90" width="3.50" height="55.80"/><rect x="196.58" y="621.30" width="3.50" height="22.40"/><rect x="198.82" y="610.20" width="3.50" height="33.50"/><rect x="201.06" y="630.30" width="3.50" height="13.40"/><rect x="203.30" y="639.10" width="3.50" height="4.60"/><rect x="205.54" y="592.50" width="3.50" height="51.20"/><rect x="207.78" y="444.10" width="3.50" height="199.60"/><rect x="210.01" y="619.20" width="3.50" height="24.50"/><rect x="212.25" y="632.10" width="3.50" height="11.60"/><rect x="214.49" y="616.40" width="3.50" height="27.30"/><rect x="216.73" y="629.90" width="3.50" height="13.80"/><rect x="221.21" y="610.70" width="3.50" height="33.00"/><rect x="223.45" y="461.10" width="3.50" height="182.60"/><rect x="225.69" y="603.30" width="3.50" height="40.40"/><rect x="227.93" y="622.10" width="3.50" height="21.60"/><rect x="230.17" y="624.20" width="3.50" height="19.50"/><rect x="232.41" y="626.30" width="3.50" height="17.40"/><rect x="234.65" y="639.10" width="3.50" height="4.60"/><rect x="236.89" y="616.40" width="3.50" height="27.30"/><rect x="239.13" y="468.40" width="3.50" height="175.30"/><rect x="241.37" y="617.80" width="3.50" height="25.90"/><rect x="243.61" y="632.10" width="3.50" height="11.60"/><rect x="245.85" y="633.40" width="3.50" height="10.30"/><rect x="248.09" y="616.10" width="3.50" height="27.60"/><rect x="250.33" y="639.10" width="3.50" height="4.60"/><rect x="252.56" y="618.50" width="3.50" height="25.20"/><rect x="254.80" y="603.30" width="3.50" height="40.40"/><rect x="257.04" y="605.10" width="3.50" height="38.60"/><rect x="259.28" y="522.70" width="3.50" height="121.00"/><rect x="261.52" y="634.10" width="3.50" height="9.60"/><rect x="263.76" y="637.70" width="3.50" height="6.00"/><rect x="266.00" y="619.10" width="3.50" height="24.60"/><rect x="268.24" y="616.40" width="3.50" height="27.30"/><rect x="270.48" y="592.50" width="3.50" height="51.20"/><rect x="272.72" y="603.80" width="3.50" height="39.90"/><rect x="274.96" y="637.10" width="3.50" height="6.60"/><rect x="277.20" y="633.40" width="3.50" height="10.30"/><rect x="279.44" y="635.60" width="3.50" height="8.10"/><rect x="281.68" y="639.10" width="3.50" height="4.60"/><rect x="283.92" y="627.70" width="3.50" height="16.00"/><rect x="286.16" y="581.10" width="3.50" height="62.60"/><rect x="288.40" y="608.50" width="3.50" height="35.20"/><rect x="290.64" y="634.80" width="3.50" height="8.90"/><rect x="292.88" y="636.30" width="3.50" height="7.40"/><rect x="295.12" y="638.40" width="3.50" height="5.30"/><rect x="297.36" y="639.80" width="3.50" height="3.90"/><rect x="299.59" y="628.40" width="3.50" height="15.30"/><rect x="301.83" y="593.90" width="3.50" height="49.80"/><rect x="304.07" y="632.70" width="3.50" height="11.00"/><rect x="306.31" y="636.30" width="3.50" height="7.40"/><rect x="308.55" y="637.10" width="3.50" height="6.60"/><rect x="310.79" y="637.70" width="3.50" height="6.00"/><rect x="313.03" y="639.80" width="3.50" height="3.90"/><rect x="315.27" y="629.40" width="3.50" height="14.30"/><rect x="317.51" y="600.40" width="3.50" height="43.30"/><rect x="319.75" y="633.40" width="3.50" height="10.30"/><rect x="321.99" y="637.10" width="3.50" height="6.60"/><rect x="324.23" y="638.10" width="3.50" height="5.60"/><rect x="326.47" y="639.10" width="3.50" height="4.60"/><rect x="328.71" y="640.50" width="3.50" height="3.20"/><rect x="330.95" y="629.40" width="3.50" height="14.30"/><rect x="333.19" y="620.90" width="3.50" height="22.80"/><rect x="335.43" y="620.30" width="3.50" height="23.40"/><rect x="337.67" y="637.40" width="3.50" height="6.30"/><rect x="339.91" y="638.40" width="3.50" height="5.30"/><rect x="342.14" y="639.80" width="3.50" height="3.90"/><rect x="344.38" y="641.10" width="3.50" height="2.60"/><rect x="346.62" y="630.30" width="3.50" height="13.40"/><rect x="348.86" y="624.90" width="3.50" height="18.80"/><rect x="351.10" y="620.90" width="3.50" height="22.80"/><rect x="353.34" y="638.80" width="3.50" height="4.90"/><rect x="355.58" y="639.40" width="3.50" height="4.30"/><rect x="357.82" y="640.50" width="3.50" height="3.20"/><rect x="360.06" y="641.60" width="3.50" height="2.10"/><rect x="362.30" y="630.60" width="3.50" height="13.10"/><rect x="364.54" y="628.40" width="3.50" height="15.30"/><rect x="366.78" y="636.30" width="3.50" height="7.40"/><rect x="369.02" y="638.40" width="3.50" height="5.30"/><rect x="371.26" y="639.80" width="3.50" height="3.90"/><rect x="373.50" y="640.80" width="3.50" height="2.90"/><rect x="375.74" y="641.60" width="3.50" height="2.10"/><rect x="377.98" y="630.60" width="3.50" height="13.10"/><rect x="380.22" y="630.30" width="3.50" height="13.40"/><rect x="382.46" y="632.30" width="3.50" height="11.40"/><rect x="384.70" y="639.10" width="3.50" height="4.60"/><rect x="386.94" y="639.80" width="3.50" height="3.90"/><rect x="389.17" y="640.50" width="3.50" height="3.20"/><rect x="391.41" y="641.60" width="3.50" height="2.10"/><rect x="393.65" y="631.30" width="3.50" height="12.40"/><rect x="395.89" y="627.70" width="3.50" height="16.00"/><rect x="398.13" y="630.60" width="3.50" height="13.10"/><rect x="400.37" y="639.40" width="3.50" height="4.30"/><rect x="402.61" y="640.30" width="3.50" height="3.40"/><rect x="404.85" y="640.80" width="3.50" height="2.90"/><rect x="407.09" y="641.60" width="3.50" height="2.10"/><rect x="409.33" y="630.60" width="3.50" height="13.10"/><rect x="411.57" y="628.40" width="3.50" height="15.30"/><rect x="413.81" y="630.60" width="3.50" height="13.10"/><rect x="416.05" y="639.10" width="3.50" height="4.60"/><rect x="418.29" y="640.30" width="3.50" height="3.40"/><rect x="420.53" y="640.80" width="3.50" height="2.90"/><rect x="422.77" y="642.10" width="3.50" height="1.60"/><rect x="425.01" y="629.90" width="3.50" height="13.80"/><rect x="427.25" y="628.90" width="3.50" height="14.80"/><rect x="429.49" y="633.40" width="3.50" height="10.30"/><rect x="431.73" y="640.30" width="3.50" height="3.40"/><rect x="433.96" y="640.80" width="3.50" height="2.90"/><rect x="436.20" y="641.40" width="3.50" height="2.30"/><rect x="438.44" y="642.10" width="3.50" height="1.60"/><rect x="440.68" y="579.40" width="3.50" height="64.30"/><rect x="442.92" y="596.40" width="3.50" height="47.30"/><rect x="445.16" y="636.30" width="3.50" height="7.40"/><rect x="447.40" y="600.70" width="3.50" height="43.00"/><rect x="449.64" y="595.70" width="3.50" height="48.00"/><rect x="451.88" y="632.10" width="3.50" height="11.60"/><rect x="454.12" y="639.10" width="3.50" height="4.60"/><rect x="456.36" y="629.10" width="3.50" height="14.60"/><rect x="458.60" y="568.30" width="3.50" height="75.40"/><rect x="460.84" y="624.90" width="3.50" height="18.80"/><rect x="465.32" y="628.40" width="3.50" height="15.30"/><rect x="472.04" y="642.30" width="3.50" height="1.40"/><rect x="474.28" y="593.60" width="3.50" height="50.10"/><rect x="476.52" y="514.10" width="3.50" height="129.60"/><rect x="478.75" y="642.10" width="3.50" height="1.60"/><rect x="483.23" y="554.50" width="3.50" height="89.20"/><rect x="485.47" y="641.60" width="3.50" height="2.10"/><rect x="487.71" y="637.40" width="3.50" height="6.30"/><rect x="489.95" y="581.10" width="3.50" height="62.60"/><rect x="492.19" y="620.30" width="3.50" height="23.40"/><rect x="498.91" y="549.80" width="3.50" height="93.90"/><rect x="501.15" y="640.50" width="3.50" height="3.20"/><rect x="503.39" y="639.10" width="3.50" height="4.60"/><rect x="505.63" y="571.60" width="3.50" height="72.10"/><rect x="507.87" y="624.20" width="3.50" height="19.50"/><rect x="510.11" y="639.10" width="3.50" height="4.60"/><rect x="512.35" y="598.10" width="3.50" height="45.60"/><rect x="514.59" y="629.10" width="3.50" height="14.60"/><rect x="516.83" y="638.40" width="3.50" height="5.30"/><rect x="519.07" y="623.10" width="3.50" height="20.60"/><rect x="521.30" y="575.10" width="3.50" height="68.60"/><rect x="523.54" y="628.40" width="3.50" height="15.30"/><rect x="532.50" y="553.90" width="3.50" height="89.80"/><rect x="534.74" y="637.70" width="3.50" height="6.00"/><rect x="536.98" y="635.10" width="3.50" height="8.60"/><rect x="541.46" y="569.40" width="3.50" height="74.30"/><rect x="545.94" y="564.40" width="3.50" height="79.30"/><rect x="548.18" y="639.10" width="3.50" height="4.60"/><rect x="550.42" y="639.10" width="3.50" height="4.60"/><rect x="552.66" y="635.10" width="3.50" height="8.60"/><rect x="554.90" y="540.40" width="3.50" height="103.30"/><rect x="557.14" y="640.10" width="3.50" height="3.60"/><rect x="559.38" y="565.90" width="3.50" height="77.80"/><rect x="561.62" y="625.60" width="3.50" height="18.10"/><rect x="563.86" y="638.40" width="3.50" height="5.30"/><rect x="566.10" y="634.80" width="3.50" height="8.90"/><rect x="568.33" y="565.10" width="3.50" height="78.60"/><rect x="570.57" y="591.50" width="3.50" height="52.20"/><rect x="572.81" y="638.10" width="3.50" height="5.60"/><rect x="575.05" y="568.70" width="3.50" height="75.00"/><rect x="577.29" y="622.80" width="3.50" height="20.90"/><rect x="579.53" y="634.80" width="3.50" height="8.90"/><rect x="581.77" y="635.60" width="3.50" height="8.10"/><rect x="584.01" y="567.70" width="3.50" height="76.00"/><rect x="586.25" y="622.80" width="3.50" height="20.90"/><rect x="588.49" y="635.10" width="3.50" height="8.60"/><rect x="590.73" y="570.10" width="3.50" height="73.60"/><rect x="592.97" y="622.10" width="3.50" height="21.60"/><rect x="595.21" y="634.10" width="3.50" height="9.60"/><rect x="597.45" y="634.10" width="3.50" height="9.60"/><rect x="599.69" y="568.70" width="3.50" height="75.00"/><rect x="601.93" y="621.80" width="3.50" height="21.90"/><rect x="604.17" y="639.10" width="3.50" height="4.60"/></g>
<path d="M76.55,652.9 H626" fill="none" stroke="#3c3c3c" stroke-width="1.5"/>
<path d="M77.3,392.6 V653.6" fill="none" stroke="#1c1c1c" stroke-width="1.5"/>
<line x1="71.2" x2="77.3" y1="397.2" y2="397.2" stroke="#222" stroke-width="1.3"/>
<text x="64.6" y="399.9" text-anchor="end" class="t2">2500000</text>
<line x1="71.2" x2="77.3" y1="446.4" y2="446.4" stroke="#222" stroke-width="1.3"/>
<text x="64.6" y="449.1" text-anchor="end" class="t2">2000000</text>
<line x1="71.2" x2="77.3" y1="495.7" y2="495.7" stroke="#222" stroke-width="1.3"/>
<text x="64.6" y="498.4" text-anchor="end" class="t2">1500000</text>
<line x1="71.2" x2="77.3" y1="544.9" y2="544.9" stroke="#222" stroke-width="1.3"/>
<text x="64.6" y="547.6" text-anchor="end" class="t2">1000000</text>
<line x1="71.2" x2="77.3" y1="594.2" y2="594.2" stroke="#222" stroke-width="1.3"/>
<text x="64.6" y="596.9" text-anchor="end" class="t2">500000</text>
<line x1="71.2" x2="77.3" y1="643.2" y2="643.2" stroke="#222" stroke-width="1.3"/>
<text x="64.6" y="645.9" text-anchor="end" class="t2">0</text>
<line x1="142.8" x2="142.8" y1="652.9" y2="657.9" stroke="#222" stroke-width="1.3"/>
<text x="142.8" y="672.8" text-anchor="middle" class="t2">Μαΐ</text>
<line x1="278.6" x2="278.6" y1="652.9" y2="657.9" stroke="#222" stroke-width="1.3"/>
<text x="278.6" y="672.8" text-anchor="middle" class="t2">Ιουλ</text>
<line x1="417.7" x2="417.7" y1="652.9" y2="657.9" stroke="#222" stroke-width="1.3"/>
<text x="417.7" y="672.8" text-anchor="middle" class="t2">Σεπ</text>
<line x1="554.2" x2="554.2" y1="652.9" y2="657.9" stroke="#222" stroke-width="1.3"/>
<text x="554.2" y="672.8" text-anchor="middle" class="t2">Νοε</text>
<text x="351.7" y="695.6" text-anchor="middle" class="l2">Ημερομηνία Δήλωσης</text>
<text transform="translate(16.3,522.4) rotate(-90)" text-anchor="middle" class="l2">Αριθμός Δειγμάτων</text>
<text x="113.1" y="378.4" class="h2" textLength="474.2" lengthAdjust="spacingAndGlyphs">Διάγραμμα 6: Ελεγχθέντα δείγματα αυτοδιαγνωστικών ελέγχων COVID-19, 25 Νοεμβρίου 2021</text>
</g>
</svg>
</body></html>
